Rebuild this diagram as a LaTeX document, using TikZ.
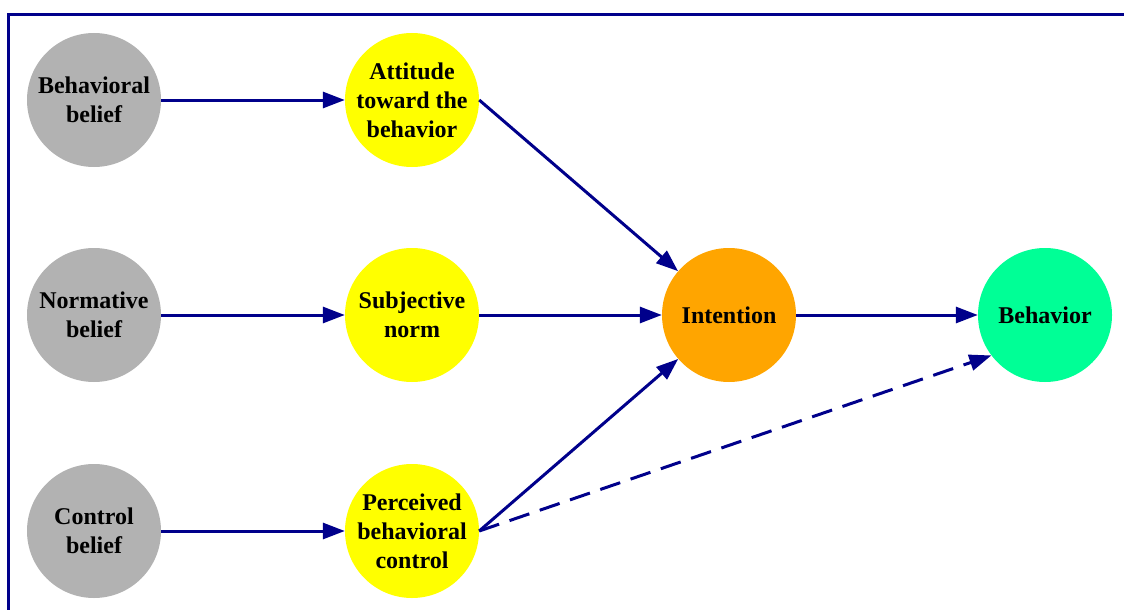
\documentclass[tikz,border=0pt]{standalone}
\usepackage{fontspec}
\setmainfont{Liberation Serif}
\usetikzlibrary{arrows.meta}
\definecolor{navyc}{RGB}{0,0,139}
\definecolor{grayc}{RGB}{178,178,178}
\definecolor{yellowc}{RGB}{255,255,0}
\definecolor{orangec}{RGB}{255,165,0}
\definecolor{greenc}{RGB}{0,255,150}
\begin{document}
\begin{tikzpicture}[x=1pt,y=-1pt,
  circ/.style={circle, minimum size=134pt, inner sep=0pt, align=center,
    font=\fontsize{24}{29}\selectfont\bfseries},
  belief/.style={circ, fill=grayc},
  mid/.style={circ, fill=yellowc},
  arr/.style={draw=navyc, line width=3pt, -{Triangle[length=22pt,width=16pt]}},
  darr/.style={arr, dash pattern=on 21pt off 11pt}
]
\useasboundingbox (0,0) rectangle (1124,610);
\begin{scope}
\clip (0,0) rectangle (1124,610);
\draw[navyc, line width=3pt] (8,15) rectangle (1140,630);
\end{scope}

\node[belief] (bb) at (94,100) {Behavioral\\belief};
\node[belief] (nb) at (94,315) {Normative\\belief};
\node[belief] (cb) at (94,531) {Control\\belief};

\node[mid] (att) at (412,100) {Attitude\\toward the\\behavior};
\node[mid] (sn) at (412,315) {Subjective\\norm};
\node[mid] (pbc) at (412,531) {Perceived\\behavioral\\control};

\node[circ, fill=orangec] (int) at (729,315) {Intention};
\node[circ, fill=greenc] (beh) at (1045,315) {Behavior};

\draw[arr] (bb.east) -- (att.west);
\draw[arr] (nb.east) -- (sn.west);
\draw[arr] (cb.east) -- (pbc.west);
\draw[arr] (att.east) -- (int);
\draw[arr] (sn.east) -- (int.west);
\draw[arr] (pbc.east) -- (int);
\draw[arr] (int.east) -- (beh.west);
\draw[darr] (pbc.east) -- (beh.217);
\end{tikzpicture}
\end{document}
